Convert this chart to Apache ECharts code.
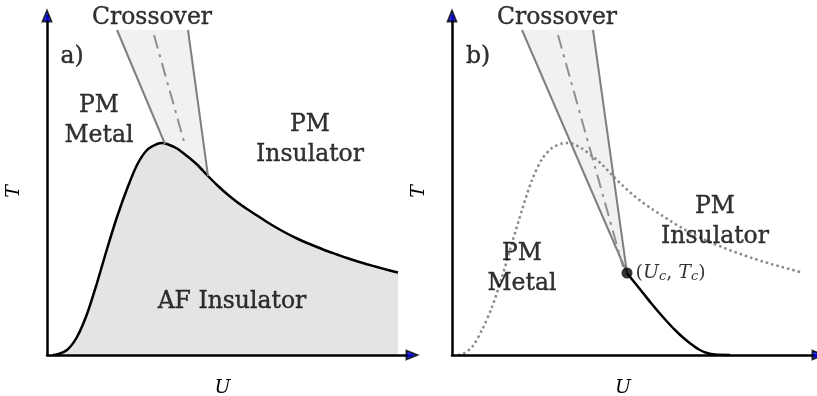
<!DOCTYPE html>
<html><head><meta charset="utf-8">
<script src="https://cdn.jsdelivr.net/npm/echarts/dist/echarts.min.js"></script>
<style>html,body{margin:0;padding:0;background:#fff}#c{width:817px;height:396px}</style>
</head><body><div id="c"></div>
<script>
// ---- Panel a data (U, T in arbitrary schematic units) ----
const afBoundaryA = [[6,0],[10,0.5],[20,5],[30,18],[40,41],[50,72],[60,106],[70,138],[80,166],[90,190],[100,205],[110,211],[115,212],[120,211],[130,206.5],[140,199],[150,190.5],[160,180],[170,170],[180,161],[190,153],[200,146],[210,139.5],[220,133],[230,127],[240,121.5],[250,116.5],[260,112],[270,108],[280,104],[290,100.5],[300,97],[310,93.8],[320,90.8],[330,88],[340,85.3],[351,82.5]];
const crossFillA = [[70,325],[118,211],[161,179],[141,325]];
const crossLeftA = [[70,325],[118,211]];
const crossRightA = [[141,325],[161,179]];
const crossMidA = [[107,320],[138,210]];
const labelsA = [[105,337,'Crossover'],[25,298,'a)'],[52,234,'PM\nMetal'],[263,215,'PM\nInsulator'],[185,53,'AF Insulator']];

// ---- Panel b data ----
const crossFillB = [[70,325],[175,82],[141,325]];
const crossLeftB = [[70,325],[175,82]];
const crossRightB = [[141,325],[175,82]];
const crossMidB = [[106,320],[171,88]];
const firstOrderB = [[175,82],[183,72],[191,62],[199,52],[207,42.5],[215,33.5],[223,25],[231,17.5],[239,11],[247,5.5],[255,2],[263,0.4],[278,0]];
const afDottedB = [[6,0],[10,0.5],[20,8],[30,25],[40,48],[50,78],[60,112],[70,145],[80,175],[90,196],[100,207],[110,211.5],[115,212],[120,211.5],[130,206.5],[140,199],[150,190.5],[160,180],[170,170],[180,161],[190,153],[200,146],[210,139.5],[220,133],[230,127],[240,121.5],[250,116.5],[260,112],[270,108],[280,104],[290,100.5],[300,97],[310,93.8],[320,90.8],[330,88],[340,85.3],[350,82.5]];
const criticalB = [[175,82]];
const labelsB = [[105,337,'Crossover'],[26,298,'b)'],[70,86,'PM\nMetal'],[263,133,'PM\nInsulator']];

const X_MAX_A = 365, X_MAX_B = 366, Y_MAX = 339;

const serif = 'DejaVu Serif';
const chart = echarts.init(document.getElementById('c'));

function axisX(idx, max){
  return {gridIndex: idx, type:'value', min:0, max:max, z:5,
    axisLine:{show:true, lineStyle:{color:'#000', width:2.5}},
    axisTick:{show:false}, axisLabel:{show:false}, splitLine:{show:false},
    name:'U', nameLocation:'middle', nameGap:24,
    nameTextStyle:{fontFamily:serif, fontStyle:'italic', fontSize:19, color:'#000', padding:[0, idx===0?14:24, 0, 0]}};
}
function axisY(idx){
  return {gridIndex: idx, type:'value', min:0, max:Y_MAX, z:5,
    axisLine:{show:true, lineStyle:{color:'#000', width:2.5}},
    axisTick:{show:false}, axisLabel:{show:false}, splitLine:{show:false},
    name:'T', nameLocation:'middle', nameGap:23,
    nameTextStyle:{fontFamily:serif, fontStyle:'italic', fontSize:19, color:'#000', padding:[0,12,0,0]}};
}
function polygon(idx, pts){
  return {type:'custom', xAxisIndex:idx, yAxisIndex:idx, z:1, silent:true,
    data:[[pts[0][0], pts[0][1]]],
    renderItem:(params, api)=>({type:'polygon', shape:{points: pts.map(p=>api.coord(p))}, style:{fill:'#f1f1f1'}})};
}
function seg(idx, data, style){
  return {type:'line', xAxisIndex:idx, yAxisIndex:idx, data:data, symbol:'none', z:4, silent:true,
    lineStyle:Object.assign({color:'#7f7f7f', width:2}, style)};
}
function labels(idx, data){
  return {type:'scatter', xAxisIndex:idx, yAxisIndex:idx, data:data, symbolSize:0, z:10, silent:true, clip:false,
    label:{show:true, position:'inside', formatter:p=>p.data[2], fontFamily:serif, fontSize:23.5, lineHeight:30,
      color:'#000', textBorderColor:'#000', textBorderWidth:0.4}};
}
function arrows(idx, xmax){
  const st = {color:'#0000ee', borderColor:'#000', borderWidth:1.8};
  return [
    {type:'scatter', xAxisIndex:idx, yAxisIndex:idx, data:[[0,Y_MAX]], symbol:'triangle', symbolSize:[9,11], clip:false, z:11, silent:true, itemStyle:st},
    {type:'scatter', xAxisIndex:idx, yAxisIndex:idx, data:[[xmax,0]], symbol:'triangle', symbolSize:[9,11], symbolRotate:-90, clip:false, z:11, silent:true, itemStyle:st}
  ];
}

chart.setOption({
  animation:false,
  grid:[{left:47, top:16, width:X_MAX_A, height:Y_MAX, containLabel:false, outerBoundsMode:'none'},
        {left:452, top:16, width:X_MAX_B, height:Y_MAX, containLabel:false, outerBoundsMode:'none'}],
  xAxis:[axisX(0, X_MAX_A), axisX(1, X_MAX_B)],
  yAxis:[axisY(0), axisY(1)],
  series:[
    polygon(0, crossFillA),
    {type:'line', xAxisIndex:0, yAxisIndex:0, data:afBoundaryA, smooth:0.3, symbol:'none', z:3, silent:true,
      lineStyle:{color:'#000', width:2.5}, areaStyle:{color:'#e4e4e4', opacity:1}},
    seg(0, crossLeftA, {}),
    seg(0, crossRightA, {}),
    seg(0, crossMidA, {type:[14,6,3,6], color:'#8f8f8f'}),
    labels(0, labelsA),
    ...arrows(0, X_MAX_A),

    polygon(1, crossFillB),
    seg(1, crossLeftB, {}),
    seg(1, crossRightB, {}),
    seg(1, crossMidB, {type:[14,6,3,6], color:'#8f8f8f'}),
    {type:'line', xAxisIndex:1, yAxisIndex:1, data:afDottedB, smooth:0.3, symbol:'none', z:3, silent:true,
      lineStyle:{color:'#8a8a8a', width:2.5, type:[2.5,3]}},
    {type:'line', xAxisIndex:1, yAxisIndex:1, data:firstOrderB, smooth:0.3, symbol:'none', z:4, silent:true,
      lineStyle:{color:'#000', width:2.5}},
    {type:'scatter', xAxisIndex:1, yAxisIndex:1, data:criticalB, symbol:'circle', symbolSize:11, z:6, silent:true,
      itemStyle:{color:'#000'},
      label:{show:true, position:'right', distance:3, color:'#000', fontFamily:serif, fontSize:19,
        formatter:'({i|U}{s|c}, {i|T}{s|c})',
        rich:{i:{fontFamily:serif, fontStyle:'italic', fontSize:19, color:'#000'},
              s:{fontFamily:serif, fontStyle:'italic', fontSize:13, color:'#000', verticalAlign:'bottom', padding:[7,0,0,0]}}}},
    labels(1, labelsB),
    ...arrows(1, X_MAX_B)
  ]
});
</script></body></html>
